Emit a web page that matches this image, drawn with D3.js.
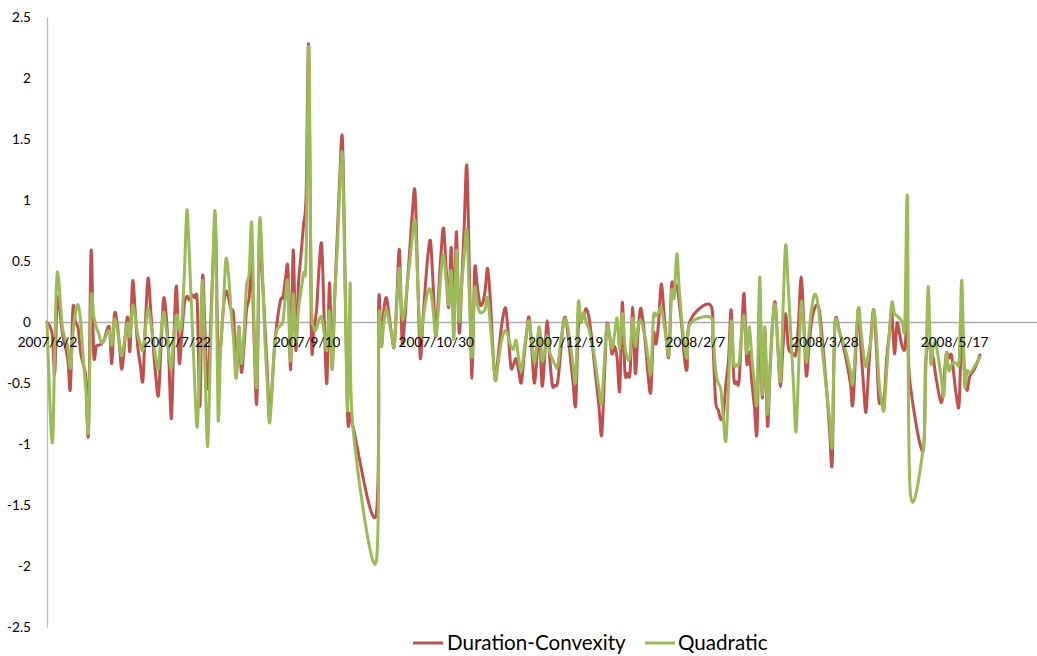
<!DOCTYPE html>
<html><head><meta charset="utf-8">
<script src="https://cdn.jsdelivr.net/npm/d3@7"></script>
<style>body{margin:0;background:#fff;} svg{display:block;}</style>
</head><body><svg id="chart" width="1037" height="656"></svg>
<script>
const dates = [
"2007/6/2","2007/6/4","2007/6/5","2007/6/6","2007/6/8","2007/6/10","2007/6/11","2007/6/12","2007/6/13","2007/6/14","2007/6/15","2007/6/16","2007/6/17","2007/6/18","2007/6/19","2007/6/20","2007/6/21","2007/6/22","2007/6/23","2007/6/24","2007/6/26","2007/6/27","2007/6/28","2007/6/29","2007/6/30",
"2007/7/1","2007/7/3","2007/7/4","2007/7/5","2007/7/6","2007/7/7","2007/7/8","2007/7/9","2007/7/10","2007/7/11","2007/7/12","2007/7/13","2007/7/14","2007/7/15","2007/7/16","2007/7/17","2007/7/18","2007/7/19","2007/7/20","2007/7/21","2007/7/22","2007/7/23","2007/7/24","2007/7/25","2007/7/26","2007/7/27","2007/7/28","2007/7/29","2007/7/30","2007/7/31",
"2007/8/1","2007/8/2","2007/8/3","2007/8/4","2007/8/5","2007/8/6","2007/8/7","2007/8/8","2007/8/9","2007/8/10","2007/8/11","2007/8/12","2007/8/13","2007/8/14","2007/8/15","2007/8/16","2007/8/17","2007/8/18","2007/8/19","2007/8/20","2007/8/21","2007/8/22","2007/8/23","2007/8/24","2007/8/25","2007/8/26","2007/8/27","2007/8/29","2007/8/31",
"2007/9/1","2007/9/2","2007/9/3","2007/9/4","2007/9/5","2007/9/6","2007/9/7","2007/9/8","2007/9/9","2007/9/10","2007/9/11","2007/9/12","2007/9/13","2007/9/14","2007/9/15","2007/9/16","2007/9/17","2007/9/18","2007/9/19","2007/9/20","2007/9/21","2007/9/22","2007/9/23","2007/9/24","2007/9/25","2007/9/26","2007/9/27","2007/9/28",
"2007/10/7","2007/10/8","2007/10/9","2007/10/10","2007/10/11","2007/10/12","2007/10/13","2007/10/14","2007/10/15","2007/10/16","2007/10/17","2007/10/18","2007/10/19","2007/10/20","2007/10/21","2007/10/22","2007/10/23","2007/10/24","2007/10/25","2007/10/26","2007/10/27","2007/10/28","2007/10/29","2007/10/30","2007/10/31",
"2007/11/1","2007/11/2","2007/11/3","2007/11/4","2007/11/5","2007/11/6","2007/11/7","2007/11/8","2007/11/9","2007/11/10","2007/11/11","2007/11/12","2007/11/13","2007/11/14","2007/11/15","2007/11/16","2007/11/17","2007/11/18","2007/11/19","2007/11/20","2007/11/21","2007/11/22","2007/11/23","2007/11/24","2007/11/25","2007/11/26","2007/11/27","2007/11/28","2007/11/29","2007/11/30",
"2007/12/1","2007/12/2","2007/12/3","2007/12/4","2007/12/5","2007/12/6","2007/12/7","2007/12/8","2007/12/9","2007/12/10","2007/12/11","2007/12/12","2007/12/13","2007/12/14","2007/12/15","2007/12/16","2007/12/17","2007/12/18","2007/12/19","2007/12/20","2007/12/21","2007/12/22","2007/12/23","2007/12/24","2007/12/25","2007/12/26","2007/12/27","2007/12/28","2007/12/29","2007/12/30","2007/12/31",
"2008/1/1","2008/1/2","2008/1/3","2008/1/4","2008/1/5","2008/1/6","2008/1/7","2008/1/8","2008/1/9","2008/1/10","2008/1/11","2008/1/12","2008/1/13","2008/1/14","2008/1/15","2008/1/16","2008/1/17","2008/1/18","2008/1/19","2008/1/20","2008/1/21","2008/1/22","2008/1/23","2008/1/24","2008/1/25","2008/1/26","2008/1/27","2008/1/28","2008/1/29","2008/1/30","2008/1/31",
"2008/2/1","2008/2/2","2008/2/3","2008/2/4","2008/2/5","2008/2/13","2008/2/14","2008/2/15","2008/2/16","2008/2/17","2008/2/18","2008/2/19","2008/2/20","2008/2/21","2008/2/22","2008/2/23","2008/2/24","2008/2/25","2008/2/26","2008/2/27","2008/2/28","2008/2/29",
"2008/3/1","2008/3/2","2008/3/3","2008/3/4","2008/3/5","2008/3/6","2008/3/7","2008/3/8","2008/3/9","2008/3/10","2008/3/11","2008/3/12","2008/3/13","2008/3/14","2008/3/15","2008/3/16","2008/3/17","2008/3/18","2008/3/19","2008/3/20","2008/3/21","2008/3/22","2008/3/23","2008/3/24","2008/3/25","2008/3/26","2008/3/27","2008/3/28","2008/3/29","2008/3/30","2008/3/31",
"2008/4/1","2008/4/3","2008/4/5","2008/4/7","2008/4/8","2008/4/10","2008/4/11","2008/4/12","2008/4/13","2008/4/14","2008/4/15","2008/4/16","2008/4/17","2008/4/18","2008/4/19","2008/4/20","2008/4/21","2008/4/22","2008/4/23","2008/4/24","2008/4/25","2008/4/26","2008/4/27","2008/4/28","2008/4/29","2008/4/30",
"2008/5/5","2008/5/6","2008/5/7","2008/5/8","2008/5/9","2008/5/10","2008/5/12","2008/5/13","2008/5/14","2008/5/15","2008/5/16","2008/5/17","2008/5/18","2008/5/19","2008/5/20","2008/5/21","2008/5/22","2008/5/23","2008/5/25","2008/5/27"
];

const durationConvexity = [
0,-0.1,-0.42,0.2,-0.1,-0.3,-0.55,0.11,0,-0.05,-0.25,-0.35,-0.46,-0.91,0.58,-0.26,-0.2,-0.19,-0.18,-0.15,-0.04,-0.34,0.06,0,-0.2,
-0.38,0.04,-0.24,0.33,0.1,-0.2,-0.35,-0.48,0,0.36,0.1,-0.2,-0.45,-0.6,-0.2,0.19,0.05,-0.3,-0.79,-0.1,0.29,-0.33,-0.1,0.15,0.21,0.18,0.22,0.2,0.15,-0.69,
0.37,-0.1,-0.55,-0.1,0.45,0.81,-0.28,-0.2,0.1,0.25,0.2,0.1,0.05,-0.45,-0.04,-0.41,-0.2,0.1,0.2,0.47,-0.2,-0.64,0.75,0.4,0,-0.4,-0.75,-0.15,0.17,
0.2,0.35,0.43,-0.39,0.59,-0.23,0.3,0.55,0.8,1.05,2.26,-0.1,-0.05,0.1,0.45,0.63,0,-0.5,0.32,-0.38,0.2,0.7,1.2,1.5,0.4,-0.78,-0.75,-0.85,
-1.58,0.17,-0.2,0.1,0.2,0.05,-0.1,-0.2,0.2,0.59,-0.15,0,0.3,0.6,0.9,1.07,0.4,-0.29,0,0.3,0.55,0.66,0.3,-0.12,0.2,
0.55,0.77,0.45,0.12,0.61,0.01,0.74,-0.08,0.3,0.8,1.28,0.4,-0.46,0.42,0.3,0.15,0.15,0.25,0.44,0.2,-0.2,-0.48,-0.3,-0.1,0.05,0.11,-0.1,-0.37,-0.35,-0.3,
-0.4,-0.5,-0.3,-0.1,0.04,-0.2,-0.5,-0.3,-0.05,-0.52,-0.3,0.01,-0.3,-0.52,-0.52,-0.5,-0.3,-0.05,0.04,-0.1,-0.3,-0.5,-0.68,-0.05,0,0.05,0.11,0.05,-0.1,-0.3,-0.5,
-0.7,-0.93,-0.5,-0.03,-0.1,-0.26,-0.2,-0.3,-0.56,0.16,-0.41,-0.42,-0.41,0.12,-0.42,-0.1,0.11,0,-0.2,-0.45,-0.57,-0.1,-0.18,0,0.31,0.1,-0.15,-0.27,0.3,0.25,0.3,
0.15,-0.05,-0.3,-0.38,0,0.14,-0.2,-0.65,-0.72,-0.8,-0.75,-0.5,-0.3,0.1,-0.45,-0.49,-0.49,-0.1,0.23,-0.33,-0.25,-0.5,
-0.7,-0.89,0.2,-0.62,-0.07,-0.85,-0.4,0,0.16,-0.2,-0.53,-0.2,0.07,-0.2,-0.25,-0.26,-0.26,0,0.37,0,-0.44,-0.2,0,0.1,0.14,0.1,-0.1,-0.35,-0.6,-0.9,-1.15,
-0.03,-0.1,-0.27,-0.5,-0.66,0.1,-0.2,-0.5,-0.74,-0.4,-0.1,0.1,-0.2,-0.64,-0.63,-0.64,-0.3,-0.1,0.07,-0.26,-0.01,-0.1,-0.2,-0.22,0,-0.5,
-1.06,-0.35,-0.18,-0.23,-0.3,-0.45,-0.66,-0.5,-0.26,-0.3,-0.27,-0.45,-0.62,-0.66,0.01,-0.4,-0.56,-0.45,-0.38,-0.27
];

const quadratic = [
0,-0.99,-0.2,0.41,-0.05,-0.2,-0.38,-0.1,0.08,0.14,0,-0.3,-0.55,-0.89,0.18,0.05,-0.04,-0.1,-0.17,-0.15,-0.07,-0.19,0.02,-0.05,-0.18,
-0.27,-0.01,-0.12,0.13,0.05,-0.1,-0.18,-0.23,-0.05,0.11,0,-0.15,-0.3,-0.38,-0.1,0.08,-0.05,-0.25,-0.38,-0.1,0.06,-0.07,0,0.4,0.92,0.5,0,-0.5,-0.86,-0.3,
0.34,-0.4,-1.02,-0.3,0.45,0.86,-0.78,-0.2,0.1,0.51,0.4,0.1,-0.15,-0.46,-0.04,-0.34,-0.1,0.3,0.4,0.81,-0.1,-0.5,0.81,0.5,-0.1,-0.5,-0.82,-0.15,-0.03,
0,0.2,0.32,-0.32,0.23,-0.16,0.1,0.25,0.4,0.55,2.26,0.25,-0.05,-0.05,0.02,0.04,-0.1,-0.23,0.09,-0.39,0.2,0.6,1.1,1.36,0.3,-0.73,0.32,-0.85,
-1.97,0,-0.2,0,0.1,0,-0.1,-0.2,0.15,0.44,0.04,0.1,0.3,0.5,0.7,0.83,0.35,-0.12,0,0.15,0.25,0.26,0.1,-0.12,0.1,
0.4,0.55,0.35,0.14,0.42,-0.14,0.59,0.01,0.3,0.55,0.75,0.2,-0.29,0.27,0.15,0.08,0.08,0.1,0.2,0,-0.25,-0.48,-0.35,-0.2,-0.1,-0.07,-0.12,-0.2,-0.22,-0.15,
-0.3,-0.4,-0.25,-0.1,0.01,-0.15,-0.33,-0.2,-0.04,-0.31,-0.25,-0.11,-0.25,-0.3,-0.35,-0.37,-0.2,-0.05,0.03,-0.05,-0.2,-0.35,-0.48,0.16,0,0.08,0,-0.05,-0.15,-0.25,-0.4,
-0.55,-0.67,-0.35,-0.03,-0.1,-0.22,-0.1,0.03,-0.22,0.07,-0.2,-0.3,-0.28,0.03,-0.2,-0.05,0.02,-0.05,-0.15,-0.3,-0.42,0.04,0.05,0.08,0.12,0,-0.15,-0.26,0.25,0.2,0.56,
0.25,0,-0.2,-0.29,-0.02,0.04,-0.1,-0.4,-0.5,-0.55,-0.8,-0.97,-0.5,0.01,-0.34,-0.35,-0.34,-0.1,0.05,-0.26,-0.04,-0.3,
-0.5,-0.64,0.37,-0.59,-0.04,-0.75,-0.35,0,0.14,-0.2,-0.48,0.1,0.63,0.3,-0.1,-0.5,-0.9,-0.4,0.16,-0.05,-0.33,-0.1,0.1,0.22,0.2,0.05,-0.2,-0.4,-0.6,-0.8,-1,
-0.03,-0.1,-0.22,-0.4,-0.49,0.1,-0.05,-0.25,-0.37,-0.25,-0.14,0.1,-0.1,-0.48,-0.65,-0.72,-0.4,-0.1,0.16,0.07,0.05,0.03,0,-0.02,1.01,-1.36,
-1.05,-0.48,0.29,-0.33,-0.2,-0.18,-0.45,-0.61,-0.26,-0.4,-0.35,-0.33,-0.34,-0.3,0.34,-0.5,-0.4,-0.42,-0.36,-0.29
];

const seriesNames = ["Duration-Convexity", "Quadratic"];
const seriesColors = ["#C0504D", "#9BBB59"];
const xTickLabels = ["2007/6/2","2007/7/22","2007/9/10","2007/10/30","2007/12/19","2008/2/7","2008/3/28","2008/5/17"];
const yTickValues = [-2.5,-2,-1.5,-1,-0.5,0,0.5,1,1.5,2,2.5];
const xDomainLabels = ["2007/6/2","2008/6/18"];

(function draw() {
  const parse = d3.timeParse("%Y/%m/%d");
  const svg = d3.select("#chart");
  const pL = 47, pR = 1037, pT = 17, pB = 627;
  const FONT = "Lato, 'Open Sans', sans-serif";

  const x = d3.scaleTime().domain(xDomainLabels.map(parse)).range([pL, pR]);
  const y = d3.scaleLinear().domain([-2.5, 2.5]).range([pB, pT]);

  // axis lines first (under the series)
  const yAxis = svg.append("g").attr("transform", `translate(${pL},0)`)
    .call(d3.axisLeft(y).tickValues(yTickValues).tickSize(0).tickSizeOuter(0).tickPadding(16).tickFormat(d => String(d)));
  yAxis.select(".domain").attr("stroke", "#bcbcbc").attr("stroke-width", 1.3);
  yAxis.selectAll("text").attr("font-family", FONT).attr("font-size", "13.6px").attr("fill", "#000");

  const xTicks = xTickLabels.map(parse);
  const xAxisLine = svg.append("g").attr("transform", `translate(0,${y(0)})`)
    .call(d3.axisBottom(x).tickValues(xTicks).tickSize(0).tickSizeOuter(0).tickFormat(() => ""));
  xAxisLine.select(".domain").attr("stroke", "#ababab").attr("stroke-width", 1.3);

  const parsedDates = dates.map(parse);
  const series = [durationConvexity, quadratic];
  const line = d3.line()
    .x((d, i) => x(parsedDates[i]))
    .y(d => y(d))
    .curve(d3.curveCardinal.tension(0));

  series.forEach((vals, k) => {
    svg.append("path")
      .datum(vals)
      .attr("fill", "none")
      .attr("stroke", seriesColors[k])
      .attr("stroke-width", 3)
      .attr("stroke-linejoin", "round")
      .attr("stroke-linecap", "round")
      .attr("d", line);
  });

  // x tick labels drawn on top of the series
  const xAxisLabels = svg.append("g").attr("transform", `translate(0,${y(0)})`)
    .call(d3.axisBottom(x).tickValues(xTicks).tickSize(0).tickSizeOuter(0).tickPadding(15).tickFormat((d, i) => xTickLabels[i]));
  xAxisLabels.select(".domain").remove();
  xAxisLabels.selectAll("text").attr("font-family", FONT).attr("font-size", "13.6px").attr("fill", "#000");

  const legendItems = [
    {x0: 413, x1: 443, tx: 447},
    {x0: 645, x1: 675, tx: 678}
  ];
  const legendY = 643;
  legendItems.forEach((it, k) => {
    svg.append("line").attr("x1", it.x0).attr("x2", it.x1).attr("y1", legendY).attr("y2", legendY)
      .attr("stroke", seriesColors[k]).attr("stroke-width", 3);
    svg.append("text").attr("x", it.tx).attr("y", legendY).attr("dy", "0.36em")
      .attr("font-family", FONT).attr("font-size", "20.6px").attr("fill", "#000")
      .text(seriesNames[k]);
  });
})();
</script>
</body></html>
